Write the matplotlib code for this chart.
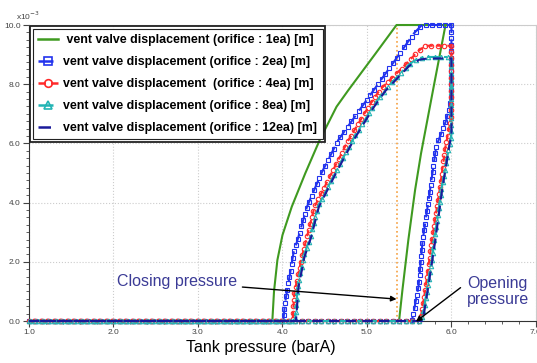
import numpy as np
import matplotlib
matplotlib.use('Agg')
import matplotlib.pyplot as plt
from matplotlib.lines import Line2D
from matplotlib.patches import Rectangle
from matplotlib.ticker import MultipleLocator, FormatStrFormatter

plt.rcParams['font.family'] = ['Liberation Sans', 'DejaVu Sans']

# Hysteresis data (pressure in barA, displacement in 1e-3 m)
# each series: opening branch (pressure rising) then closing branch (pressure falling)
p_1ea_open = [1.0, 5.38, 5.42, 5.49, 5.57, 5.64, 5.79, 5.93, 6.0]
d_1ea_open = [0.0, 0.0, 1.05, 2.74, 4.43, 5.66, 7.92, 10.0, 10.0]
p_1ea_close = [6.0, 5.35, 5.10, 4.78, 4.64, 4.44, 4.27, 4.11, 4.00, 3.94, 3.90, 3.88, 1.0]
d_1ea_close = [10.0, 10.0, 9.03, 7.8, 7.24, 6.11, 4.99, 3.86, 2.9, 2.06, 1.0, 0.0, 0.0]

p_2ea_open = [1.0, 5.53, 5.55, 5.61, 5.66, 5.73, 5.82, 5.94, 6.0, 6.0]
d_2ea_open = [0.0, 0.0, 0.26, 1.16, 2.74, 4.09, 5.9, 6.8, 7.6, 10.0]
p_2ea_close = [6.0, 5.65, 5.55, 5.39, 5.08, 4.94, 4.66, 4.46, 4.29, 4.19, 4.13, 4.09, 4.03, 4.01, 1.0]
d_2ea_close = [10.0, 10.0, 9.7, 9.04, 7.8, 7.24, 6.11, 4.99, 3.86, 2.85, 2.29, 1.61, 0.6, 0.0, 0.0]

p_4ea_open = [1.0, 5.63, 5.69, 5.77, 5.86, 5.93, 6.0, 6.0]
d_4ea_open = [0.0, 0.0, 1.05, 2.74, 4.43, 5.9, 6.9, 9.3]
p_4ea_close = [6.0, 5.69, 5.60, 5.47, 5.15, 5.02, 4.78, 4.58, 4.38, 4.29, 4.23, 4.14, 4.12, 1.0]
d_4ea_close = [9.3, 9.3, 9.1, 8.7, 7.8, 7.24, 6.11, 4.99, 3.86, 2.85, 2.17, 0.94, 0.0, 0.0]

p_8ea_open = [1.0, 5.65, 5.71, 5.80, 5.88, 5.98, 6.0, 6.0]
d_8ea_open = [0.0, 0.0, 1.05, 2.74, 4.43, 6.0, 6.3, 8.92]
p_8ea_close = [6.0, 5.69, 5.60, 5.49, 5.21, 5.07, 4.83, 4.62, 4.42, 4.33, 4.25, 4.18, 4.15, 1.0]
d_8ea_close = [8.92, 8.92, 8.87, 8.65, 7.8, 7.24, 6.11, 4.99, 3.86, 2.85, 2.17, 1.16, 0.0, 0.0]

p_12ea_open = [1.0, 5.66, 5.72, 5.81, 5.89, 5.98, 6.0, 6.0]
d_12ea_open = [0.0, 0.0, 1.05, 2.74, 4.43, 6.0, 6.3, 8.87]
p_12ea_close = [6.0, 5.72, 5.62, 5.50, 5.22, 5.08, 4.84, 4.63, 4.43, 4.34, 4.26, 4.19, 4.16, 1.0]
d_12ea_close = [8.87, 8.87, 8.83, 8.62, 7.78, 7.22, 6.1, 4.98, 3.85, 2.84, 2.16, 1.15, 0.0, 0.0]

labels = [' vent valve displacement (orifice : 1ea) [m]',
          'vent valve displacement (orifice : 2ea) [m]',
          'vent valve displacement  (orifice : 4ea) [m]',
          'vent valve displacement (orifice : 8ea) [m]',
          'vent valve displacement (orifice : 12ea) [m]']

closing_pressure = 5.36

fig = plt.figure(figsize=(5.37, 3.63), dpi=100)
ax = fig.add_axes([0.054, 0.1157, 0.944, 0.8154])
ax.set_xlim(1.0, 7.0)
ax.set_ylim(0.0, 10.0)


def marker_points(x, y, step_px):
    # evenly spaced marker positions along the drawn polyline (display space)
    pts = ax.transData.transform(np.column_stack([x, y]))
    seg = np.hypot(*np.diff(pts, axis=0).T)
    s = np.concatenate([[0], np.cumsum(seg)])
    t = np.arange(0, s[-1], step_px)
    mp = np.column_stack([np.interp(t, s, pts[:, 0]), np.interp(t, s, pts[:, 1])])
    return ax.transData.inverted().transform(mp).T


series = [
    (p_1ea_open, d_1ea_open, p_1ea_close, d_1ea_close, '#3f9a20', '-', None),
    (p_2ea_open, d_2ea_open, p_2ea_close, d_2ea_close, '#2233ee', (0, (6, 3)), 's'),
    (p_4ea_open, d_4ea_open, p_4ea_close, d_4ea_close, '#ff2a2a', (0, (3, 2)), 'o'),
    (p_8ea_open, d_8ea_open, p_8ea_close, d_8ea_close, '#22b4b4', (0, (6, 2, 1.5, 2)), '^'),
    (p_12ea_open, d_12ea_open, p_12ea_close, d_12ea_close, '#1a1a9a', (0, (5, 3)), None),
]

handles = []
for po, do, pc, dc, col, ls, mk in series:
    x = po + pc
    y = do + dc
    ax.plot(x, y, color=col, ls=ls, lw=1.5, clip_on=False, zorder=3)
    if mk is not None:
        mx, my = marker_points(x, y, 6.5)
        ax.plot(mx, my, ls='none', marker=mk, ms=3.2, mfc='none', mec=col,
                mew=0.8, clip_on=False, zorder=3)
    handles.append(Line2D([], [], color=col, ls=ls, lw=1.8, marker=mk, ms=5.5,
                          mfc='none', mec=col, mew=1.2))

# closing pressure marker line
ax.axvline(closing_pressure, color='#f5a040', ls=':', lw=1.2, zorder=2)

# axes styling
ax.xaxis.set_major_locator(MultipleLocator(1.0))
ax.xaxis.set_minor_locator(MultipleLocator(0.2))
ax.yaxis.set_major_locator(MultipleLocator(2.0))
ax.yaxis.set_minor_locator(MultipleLocator(0.25))
ax.xaxis.set_major_formatter(FormatStrFormatter('%.1f'))
ax.yaxis.set_major_formatter(FormatStrFormatter('%.1f'))
ax.tick_params(which='major', length=4, width=0.8, labelsize=6, colors='#444444', pad=2)
ax.tick_params(which='minor', length=2, width=0.6, colors='#444444')
ax.grid(True, which='major', ls=':', color='#cccccc', lw=0.8)
for side in ['top', 'right']:
    ax.spines[side].set_color('#cccccc')
for side in ['left', 'bottom']:
    ax.spines[side].set_color('#333333')

fig.text(0.03, 0.945, r'x10$^{-3}$', fontsize=6, color='#444444')
fig.text(0.485, 0.03, 'Tank pressure (barA)', fontsize=11.5, ha='center')

# annotations
ax.annotate('Closing pressure', xy=(5.35, 0.74), xytext=(3.46, 1.32),
            fontsize=11.5, color='#3b3b96', ha='right', va='center',
            arrowprops=dict(arrowstyle='-|>', color='black', lw=1, mutation_scale=8,
                            shrinkA=2, shrinkB=0))
ax.annotate('Opening\npressure', xy=(5.58, -0.02), xytext=(6.55, 1.0),
            fontsize=11.5, color='#3b3b96', ha='center', va='center',
            linespacing=1.1, annotation_clip=False,
            arrowprops=dict(arrowstyle='-|>', color='black', lw=1, mutation_scale=8,
                            shrinkA=0, shrinkB=0, relpos=(-0.1, 0.62)))

leg = ax.legend(handles, labels, loc='upper left', bbox_to_anchor=(0.0, 1.0),
                borderaxespad=0.3, handlelength=1.6, handletextpad=0.4,
                labelspacing=0.8, fancybox=False, framealpha=1, edgecolor='#222222',
                prop={'weight': 'bold', 'size': 8.9}, borderpad=0.45)
leg.get_frame().set_linewidth(0.8)
leg.set_zorder(5)

fig.canvas.draw()
bb = leg.get_window_extent().transformed(fig.transFigure.inverted())
pad_x, pad_y = 2.5 / 537, 2.5 / 363
fig.patches.append(Rectangle((bb.x0 - pad_x, bb.y0 - pad_y), bb.width + 2 * pad_x,
                             bb.height + 2 * pad_y, transform=fig.transFigure,
                             fill=False, ec='#222222', lw=1.3, zorder=6))

fig.savefig('out.png', dpi=100)
